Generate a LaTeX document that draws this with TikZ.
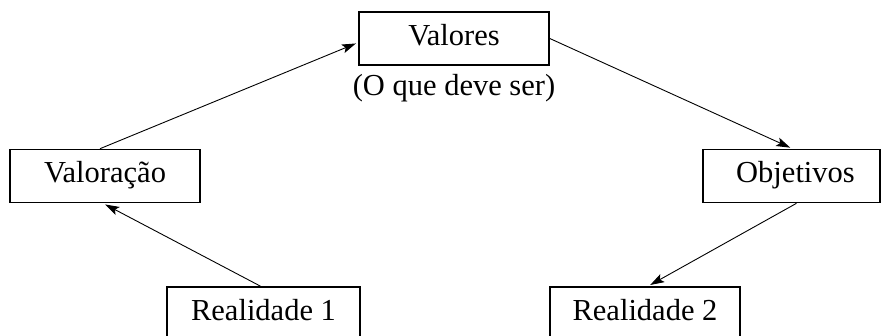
\documentclass[tikz,border=0pt]{standalone}
\usepackage{fontspec}
\setmainfont{Liberation Serif}
\usetikzlibrary{arrows.meta,calc}
\begin{document}
\begin{tikzpicture}[x=1pt,y=-1pt,
  lbl/.style={font=\fontsize{30.5}{36}\selectfont},
  box/.style={lbl,draw,line width=1.6pt,inner sep=0pt,minimum height=53pt,text height=20pt,text depth=6pt},
  conn/.style={line width=0.9pt,shorten >=2.5pt,-{Stealth[length=14pt,width=9pt,inset=3pt]}}]
\useasboundingbox (0,0) rectangle (882,336);
\clip (0,0) rectangle (882,336);
\node[box,minimum width=190pt] (valores) at (454,38.5) {Valores};
\node[lbl,anchor=base] (sub) at ($(valores.south)+(0,30)$) {(O que deve ser)};
\node[box,minimum width=190pt] (valoracao) at (105,176) {Valoração};
\node[box,minimum width=177pt] (objetivos) at (791.5,176) {\hspace*{8pt}Objetivos};
\node[box,minimum width=193pt] (realidade1) at (263.5,313.5) {Realidade 1};
\node[box,minimum width=190pt] (realidade2) at (645,313.5) {Realidade 2};
\draw[conn] ([xshift=-5pt]valoracao.north) -- ([yshift=-4pt]valores.west);
\draw[conn] (valores.east) -- ([xshift=1pt]objetivos.north);
\draw[conn] ([xshift=-3pt]realidade1.north) -- ([xshift=-2pt]valoracao.south);
\draw[conn] ([xshift=5pt]objetivos.south) -- ([xshift=3pt]realidade2.north);
\end{tikzpicture}
\end{document}
